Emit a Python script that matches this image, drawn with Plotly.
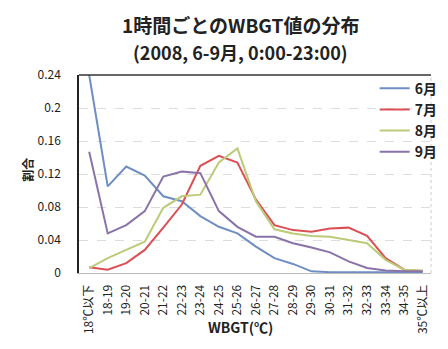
import plotly.graph_objects as go

# WBGT class labels (hourly readings, June-September 2008)
categories = ["18℃以下"] + [f"{t}-{t+1}" for t in range(18, 35)] + ["35℃以上"]

june = [0.24, 0.105, 0.129, 0.118, 0.093, 0.087, 0.069, 0.056, 0.048, 0.032,
        0.018, 0.011, 0.002, 0.001, 0.001, 0.001, 0.001, 0.001, 0.001]
july = [0.007, 0.004, 0.012, 0.028, 0.055, 0.083, 0.130, 0.142, 0.134, 0.089,
        0.058, 0.052, 0.050, 0.054, 0.055, 0.045, 0.018, 0.004, 0.002]
august = [0.006, 0.018, 0.028, 0.038, 0.079, 0.093, 0.095, 0.134, 0.151, 0.087,
          0.053, 0.048, 0.045, 0.044, 0.040, 0.036, 0.016, 0.004, 0.003]
september = [0.147, 0.048, 0.058, 0.075, 0.117, 0.123, 0.121, 0.075, 0.056, 0.044,
             0.044, 0.036, 0.031, 0.025, 0.014, 0.006, 0.003, 0.002, 0.002]

y_ticks = [0, 0.04, 0.08, 0.12, 0.16, 0.2, 0.24]
y_tick_text = ["0", "0.04", "0.08", "0.12", "0.16", "0.2", "0.24"]

title_lines = ["1時間ごとのWBGT値の分布", "(2008, 6-9月, 0:00-23:00)"]
x_title = "WBGT(℃)"
y_title = "割合"

series = [
    ("6月", june, "#6f8fc4"),
    ("7月", july, "#dc4f55"),
    ("8月", august, "#bccb78"),
    ("9月", september, "#8a73a8"),
]

FONT = "Noto Sans CJK JP"
PLOT_L, PLOT_T, PLOT_W, PLOT_H = 79, 75, 364, 198


def px_to_paper(xpx, ypx):
    return (xpx - PLOT_L) / PLOT_W, 1 - (ypx - PLOT_T) / PLOT_H


fig = go.Figure()
for name, vals, color in series:
    fig.add_trace(go.Scatter(
        x=categories, y=vals, name=name, mode="lines",
        line=dict(color=color, width=2),
    ))

fig.update_layout(
    width=448, height=349,
    margin=dict(l=PLOT_L, r=448 - PLOT_L - PLOT_W, t=PLOT_T, b=349 - PLOT_T - PLOT_H),
    paper_bgcolor="white", plot_bgcolor="white",
    font=dict(family=FONT, color="#222"),
    showlegend=True,
    legend=dict(
        x=0.84, xanchor="left", y=1.012, yanchor="top",
        bgcolor="rgba(0,0,0,0)", tracegroupgap=0,
        font=dict(family=FONT, size=14, weight="bold", color="#222"),
        itemwidth=30,
    ),
)

# two-line heading placed in pixel rows above the plot
for text, ypx, size in [(title_lines[0], 25, 19), (title_lines[1], 52, 18)]:
    xp, yp = px_to_paper(246, ypx)
    fig.add_annotation(
        text=f"<b>{text}</b>", xref="paper", yref="paper", x=xp, y=yp,
        xanchor="center", yanchor="middle", showarrow=False,
        font=dict(family=FONT, size=size, color="#222"),
    )

# axis titles
xp, yp = px_to_paper(246, 327)
fig.add_annotation(
    text=f"<b>{x_title}</b>", xref="paper", yref="paper", x=xp, y=yp,
    xanchor="center", yanchor="middle", showarrow=False,
    font=dict(family=FONT, size=14, color="#222"),
)
xp, yp = px_to_paper(25, 170)
fig.add_annotation(
    text=f"<b>{y_title}</b>", xref="paper", yref="paper", x=xp, y=yp,
    xanchor="center", yanchor="middle", showarrow=False, textangle=-90,
    font=dict(family=FONT, size=12, color="#222"),
)

fig.update_xaxes(
    type="category", range=[-0.55, 18.45],
    tickangle=-90, tickfont=dict(family=FONT, size=12, color="#222"),
    showgrid=False, showline=True, linecolor="#bbb", linewidth=1,
    ticks="", ticklen=0, ticklabelstandoff=6,
)
fig.update_yaxes(
    range=[0, 0.24], tickvals=y_ticks, ticktext=y_tick_text,
    tickfont=dict(family=FONT, size=12, color="#222"),
    showgrid=True, gridcolor="#dcdcdc", griddash="dash", gridwidth=1,
    showline=True, linecolor="#222", linewidth=1.5, zeroline=False,
    ticks="", ticklabelstandoff=14,
)

# dark top frame and faint right frame of the plotting area
fig.add_shape(type="line", xref="paper", yref="paper", x0=0, x1=1, y0=1, y1=1,
              line=dict(color="#333", width=1.5))
fig.add_shape(type="line", xref="paper", yref="paper", x0=1, x1=1, y0=0, y1=1,
              line=dict(color="#ccc", width=1, dash="dot"))

fig.write_html("out.html")
